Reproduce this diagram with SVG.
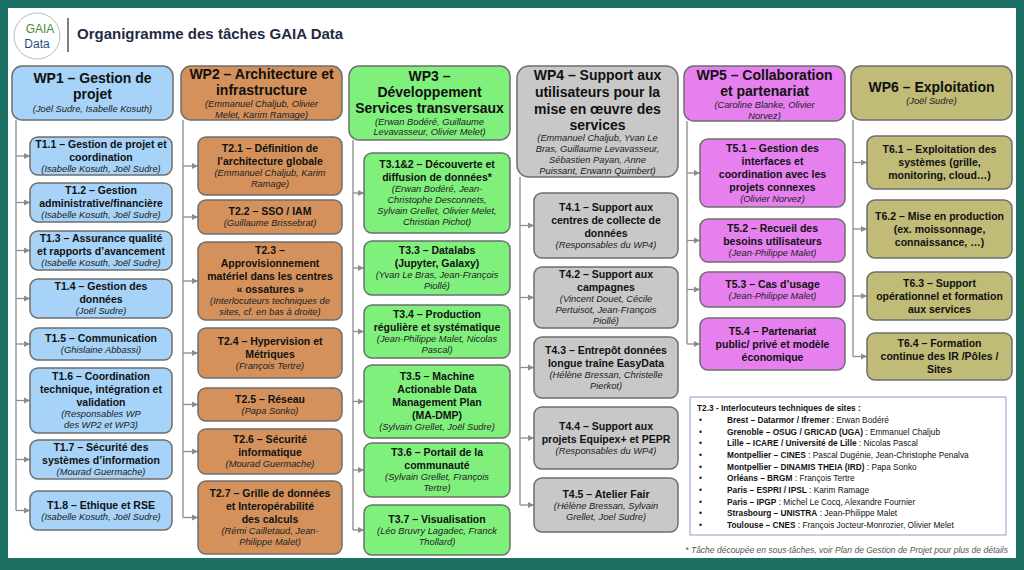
<svg xmlns="http://www.w3.org/2000/svg" width="1024" height="570" viewBox="0 0 1024 570">
<style>
text{font-family:"Liberation Sans",Arial,sans-serif;fill:#111;text-anchor:middle}
.h{font-size:14px;font-weight:bold}
.t{font-size:10.5px;font-weight:bold}
.n{font-size:9.3px;font-style:italic;fill:#222}
.box{stroke:#6e6e6e;stroke-width:1.5}
.w1{fill:#a6d3f7}.w2{fill:#d4915b}.w3{fill:#80f07c}.w4{fill:#c8c8c8}.w5{fill:#e680ef}.w6{fill:#c0bb77}
.c{stroke:#8c8c8c;stroke-width:1.3;fill:none}
.i{font-size:8.3px;text-anchor:start}
.ib{font-weight:bold}
</style>
<defs><marker id="a" markerWidth="6" markerHeight="6" refX="5" refY="3" orient="auto"><path d="M0,0.5 L5,3 L0,5.5z" fill="#8c8c8c"/></marker></defs>
<rect width="1024" height="570" fill="#1c7064"/>
<rect x="8" y="8" width="1008" height="550" fill="#fff"/>
<g id="logo"><circle cx="37" cy="36" r="23" fill="#fff" stroke="#bbb" stroke-width="1"/>
<text x="40" y="33" style="font-size:12px;fill:#4a8a3a">GAIA</text><text x="37" y="48" style="font-size:12px;fill:#1f4e79">Data</text></g>
<line x1="68" y1="18" x2="68" y2="52" stroke="#555" stroke-width="1.5"/>
<text x="77" y="39" style="font-size:15px;font-weight:bold;fill:#1f2a44;text-anchor:start">Organigramme des tâches GAIA Data</text>

<g id="connectors">
<path class="c" d="M16,120V510.5 M183,120V517.5 M353,140V530 M520,177V505 M687,121V344 M853,120V356.5"/>
<g marker-end="url(#a)" class="c">
<path d="M16,156H30"/><path d="M16,202.5H30"/><path d="M16,250.5H30"/><path d="M16,298.5H30"/><path d="M16,344H30"/><path d="M16,400.5H30"/><path d="M16,459.5H30"/><path d="M16,510.5H30"/>
<path d="M183,166H198"/><path d="M183,217H198"/><path d="M183,281H198"/><path d="M183,353H198"/><path d="M183,404.5H198"/><path d="M183,451.5H198"/><path d="M183,517.5H198"/>
<path d="M353,193H364"/><path d="M353,268H364"/><path d="M353,331.5H364"/><path d="M353,401.5H364"/><path d="M353,470H364"/><path d="M353,530H364"/>
<path d="M520,225.5H534"/><path d="M520,297.5H534"/><path d="M520,367.5H534"/><path d="M520,438H534"/><path d="M520,505H534"/>
<path d="M687,173H700"/><path d="M687,240.5H700"/><path d="M687,289.5H700"/><path d="M687,344H700"/>
<path d="M853,162.5H867"/><path d="M853,229H867"/><path d="M853,296H867"/><path d="M853,356.5H867"/>
</g></g>

<g id="wp1"><rect class="box w1" x="12" y="66" width="161" height="54" rx="10"/><text x="92.5"><tspan class="h" y="83">WP1 – Gestion de</tspan><tspan class="h" x="92.5" y="99">projet</tspan><tspan class="n" x="92.5" y="112">(Joël Sudre, Isabelle Kosuth)</tspan></text></g>
<g id="t11"><rect class="box w1" x="30" y="137" width="142" height="38" rx="8"/><text x="101"><tspan class="t" y="147.5">T1.1 – Gestion de projet et</tspan><tspan class="t" x="101" y="160.5">coordination</tspan><tspan class="n" x="101" y="171.5">(Isabelle Kosuth, Joël Sudre)</tspan></text></g>
<g id="t12"><rect class="box w1" x="30" y="183" width="142" height="39" rx="8"/><text x="101"><tspan class="t" y="194">T1.2 – Gestion</tspan><tspan class="t" x="101" y="207">administrative/financière</tspan><tspan class="n" x="101" y="218">(Isabelle Kosuth, Joël Sudre)</tspan></text></g>
<g id="t13"><rect class="box w1" x="30" y="231" width="142" height="39" rx="8"/><text x="101"><tspan class="t" y="242">T1.3 – Assurance qualité</tspan><tspan class="t" x="101" y="255">et rapports d’avancement</tspan><tspan class="n" x="101" y="266">(Isabelle Kosuth, Joël Sudre)</tspan></text></g>
<g id="t14"><rect class="box w1" x="30" y="279" width="142" height="39" rx="8"/><text x="101"><tspan class="t" y="290">T1.4 – Gestion des</tspan><tspan class="t" x="101" y="303">données</tspan><tspan class="n" x="101" y="314">(Joël Sudre)</tspan></text></g>
<g id="t15"><rect class="box w1" x="30" y="328" width="142" height="32" rx="8"/><text x="101"><tspan class="t" y="342">T1.5 – Communication</tspan><tspan class="n" x="101" y="353">(Ghislaine Abbassi)</tspan></text></g>
<g id="t16"><rect class="box w1" x="30" y="368" width="142" height="65" rx="8"/><text x="101"><tspan class="t" y="380">T1.6 – Coordination</tspan><tspan class="t" x="101" y="393">technique, intégration et</tspan><tspan class="t" x="101" y="406">validation</tspan><tspan class="n" x="101" y="417">(Responsables WP</tspan><tspan class="n" x="101" y="428">des WP2 et WP3)</tspan></text></g>
<g id="t17"><rect class="box w1" x="30" y="440" width="142" height="39" rx="8"/><text x="101"><tspan class="t" y="451">T1.7 – Sécurité des</tspan><tspan class="t" x="101" y="464">systèmes d’information</tspan><tspan class="n" x="101" y="475">(Mourad Guermache)</tspan></text></g>
<g id="t18"><rect class="box w1" x="30" y="491" width="142" height="39" rx="8"/><text x="101"><tspan class="t" y="508.5">T1.8 – Ethique et RSE</tspan><tspan class="n" x="101" y="519.5">(Isabelle Kosuth, Joël Sudre)</tspan></text></g>

<g id="wp2"><rect class="box w2" x="181" y="66" width="161" height="54" rx="10"/><text x="261.5"><tspan class="h" y="79">WP2 – Architecture et</tspan><tspan class="h" x="261.5" y="95">infrastructure</tspan><tspan class="n" x="261.5" y="107">(Emmanuel Chaljub, Olivier</tspan><tspan class="n" x="261.5" y="118">Melet, Karim Ramage)</tspan></text></g>
<g id="t21"><rect class="box w2" x="198" y="137" width="144" height="58" rx="8"/><text x="270"><tspan class="t" y="152">T2.1 – Définition de</tspan><tspan class="t" x="270" y="165">l’architecture globale</tspan><tspan class="n" x="270" y="176">(Emmanuel Chaljub, Karim</tspan><tspan class="n" x="270" y="187">Ramage)</tspan></text></g>
<g id="t22"><rect class="box w2" x="198" y="200" width="144" height="34" rx="8"/><text x="270"><tspan class="t" y="215">T2.2 – SSO / IAM</tspan><tspan class="n" x="270" y="226">(Guillaume Brissebrat)</tspan></text></g>
<g id="t23"><rect class="box w2" x="198" y="242" width="144" height="78" rx="8"/><text x="270"><tspan class="t" y="254">T2.3 –</tspan><tspan class="t" x="270" y="267">Approvisionnement</tspan><tspan class="t" x="270" y="280">matériel dans les centres</tspan><tspan class="t" x="270" y="293">« ossatures »</tspan><tspan class="n" x="270" y="304">(Interlocuteurs techniques de</tspan><tspan class="n" x="270" y="315">sites, cf. en bas à droite)</tspan></text></g>
<g id="t24"><rect class="box w2" x="198" y="328" width="144" height="50" rx="8"/><text x="270"><tspan class="t" y="344.5">T2.4 – Hypervision et</tspan><tspan class="t" x="270" y="357.5">Métriques</tspan><tspan class="n" x="270" y="368.5">(François Tertre)</tspan></text></g>
<g id="t25"><rect class="box w2" x="198" y="388" width="144" height="33" rx="8"/><text x="270"><tspan class="t" y="402.5">T2.5 – Réseau</tspan><tspan class="n" x="270" y="413.5">(Papa Sonko)</tspan></text></g>
<g id="t26"><rect class="box w2" x="198" y="429" width="144" height="45" rx="8"/><text x="270"><tspan class="t" y="443">T2.6 – Sécurité</tspan><tspan class="t" x="270" y="456">informatique</tspan><tspan class="n" x="270" y="467">(Mourad Guermache)</tspan></text></g>
<g id="t27"><rect class="box w2" x="198" y="481" width="144" height="73" rx="8"/><text x="270"><tspan class="t" y="497">T2.7 – Grille de données</tspan><tspan class="t" x="270" y="510">et Interopérabilité</tspan><tspan class="t" x="270" y="523">des calculs</tspan><tspan class="n" x="270" y="534">(Rémi Cailletaud, Jean-</tspan><tspan class="n" x="270" y="545">Philippe Malet)</tspan></text></g>

<g id="wp3"><rect class="box w3" x="349" y="66" width="161" height="74" rx="10"/><text x="429.5"><tspan class="h" y="81">WP3 –</tspan><tspan class="h" x="429.5" y="97">Développement</tspan><tspan class="h" x="429.5" y="113">Services transversaux</tspan><tspan class="n" x="429.5" y="125">(Erwan Bodéré, Guillaume</tspan><tspan class="n" x="429.5" y="135">Levavasseur, Olivier Melet)</tspan></text></g>
<g id="t312"><rect class="box w3" x="364" y="153" width="146" height="80" rx="8"/><text x="437"><tspan class="t" y="168">T3.1&amp;2 – Découverte et</tspan><tspan class="t" x="437" y="181">diffusion de données*</tspan><tspan class="n" x="437" y="192">(Erwan Bodéré, Jean-</tspan><tspan class="n" x="437" y="203">Christophe Desconnets,</tspan><tspan class="n" x="437" y="214">Sylvain Grellet, Olivier Melet,</tspan><tspan class="n" x="437" y="225">Christian Pichot)</tspan></text></g>
<g id="t33"><rect class="box w3" x="364" y="241" width="146" height="54" rx="8"/><text x="437"><tspan class="t" y="254">T3.3 – Datalabs</tspan><tspan class="t" x="437" y="267">(Jupyter, Galaxy)</tspan><tspan class="n" x="437" y="278">(Yvan Le Bras, Jean-François</tspan><tspan class="n" x="437" y="289">Piollé)</tspan></text></g>
<g id="t34"><rect class="box w3" x="364" y="305" width="146" height="53" rx="8"/><text x="437"><tspan class="t" y="317.5">T3.4 – Production</tspan><tspan class="t" x="437" y="330.5">régulière et systématique</tspan><tspan class="n" x="437" y="341.5">(Jean-Philippe Malet, Nicolas</tspan><tspan class="n" x="437" y="352.5">Pascal)</tspan></text></g>
<g id="t35"><rect class="box w3" x="364" y="365" width="146" height="73" rx="8"/><text x="437"><tspan class="t" y="380">T3.5 – Machine</tspan><tspan class="t" x="437" y="393">Actionable Data</tspan><tspan class="t" x="437" y="406">Management Plan</tspan><tspan class="t" x="437" y="419">(MA-DMP)</tspan><tspan class="n" x="437" y="430">(Sylvain Grellet, Joël Sudre)</tspan></text></g>
<g id="t36"><rect class="box w3" x="364" y="443" width="146" height="54" rx="8"/><text x="437"><tspan class="t" y="456">T3.6 – Portail de la</tspan><tspan class="t" x="437" y="469">communauté</tspan><tspan class="n" x="437" y="480">(Sylvain Grellet, François</tspan><tspan class="n" x="437" y="491">Tertre)</tspan></text></g>
<g id="t37"><rect class="box w3" x="364" y="505" width="146" height="50" rx="8"/><text x="437"><tspan class="t" y="522.5">T3.7 – Visualisation</tspan><tspan class="n" x="437" y="533.5">(Léo Bruvry Lagadec, Franck</tspan><tspan class="n" x="437" y="544.5">Thollard)</tspan></text></g>

<g id="wp4"><rect class="box w4" x="517" y="66" width="161" height="111" rx="12"/><text x="597.5"><tspan class="h" y="80">WP4 – Support aux</tspan><tspan class="h" x="597.5" y="97">utilisateurs pour la</tspan><tspan class="h" x="597.5" y="114">mise en œuvre des</tspan><tspan class="h" x="597.5" y="130">services</tspan><tspan class="n" x="597.5" y="141">(Emmanuel Chaljub, Yvan Le</tspan><tspan class="n" x="597.5" y="152">Bras, Guillaume Levavasseur,</tspan><tspan class="n" x="597.5" y="163">Sébastien Payan, Anne</tspan><tspan class="n" x="597.5" y="174">Puissant, Erwann Quimbert)</tspan></text></g>
<g id="t41"><rect class="box w4" x="534" y="193" width="144" height="65" rx="8"/><text x="606"><tspan class="t" y="210.5">T4.1 – Support aux</tspan><tspan class="t" x="606" y="223.5">centres de collecte de</tspan><tspan class="t" x="606" y="236.5">données</tspan><tspan class="n" x="606" y="247.5">(Responsables du WP4)</tspan></text></g>
<g id="t42"><rect class="box w4" x="534" y="267" width="144" height="61" rx="8"/><text x="606"><tspan class="t" y="278">T4.2 – Support aux</tspan><tspan class="t" x="606" y="291">campagnes</tspan><tspan class="n" x="606" y="302">(Vincent Douet, Cécile</tspan><tspan class="n" x="606" y="313">Pertuisot, Jean-François</tspan><tspan class="n" x="606" y="324">Piollé)</tspan></text></g>
<g id="t43"><rect class="box w4" x="534" y="337" width="144" height="61" rx="8"/><text x="606"><tspan class="t" y="353.5">T4.3 – Entrepôt données</tspan><tspan class="t" x="606" y="366.5">longue traîne EasyData</tspan><tspan class="n" x="606" y="377.5">(Hélène Bressan, Christelle</tspan><tspan class="n" x="606" y="388.5">Pierkot)</tspan></text></g>
<g id="t44"><rect class="box w4" x="534" y="407" width="144" height="62" rx="8"/><text x="606"><tspan class="t" y="429.5">T4.4 – Support aux</tspan><tspan class="t" x="606" y="442.5">projets Equipex+ et PEPR</tspan><tspan class="n" x="606" y="453.5">(Responsables du WP4)</tspan></text></g>
<g id="t45"><rect class="box w4" x="534" y="478" width="144" height="54" rx="8"/><text x="606"><tspan class="t" y="497.5">T4.5 – Atelier Fair</tspan><tspan class="n" x="606" y="508.5">(Hélène Bressan, Sylvain</tspan><tspan class="n" x="606" y="519.5">Grellet, Joel Sudre)</tspan></text></g>

<g id="wp5"><rect class="box w5" x="684" y="66" width="161" height="55" rx="10"/><text x="764.5"><tspan class="h" y="80">WP5 – Collaboration</tspan><tspan class="h" x="764.5" y="96">et partenariat</tspan><tspan class="n" x="764.5" y="108">(Caroline Blanke, Olivier</tspan><tspan class="n" x="764.5" y="119">Norvez)</tspan></text></g>
<g id="t51"><rect class="box w5" x="700" y="139" width="145" height="68" rx="8"/><text x="772.5"><tspan class="t" y="151.5">T5.1 – Gestion des</tspan><tspan class="t" x="772.5" y="164.5">interfaces et</tspan><tspan class="t" x="772.5" y="177.5">coordination avec les</tspan><tspan class="t" x="772.5" y="190.5">projets connexes</tspan><tspan class="n" x="772.5" y="201.5">(Olivier Norvez)</tspan></text></g>
<g id="t52"><rect class="box w5" x="700" y="219" width="145" height="43" rx="8"/><text x="772.5"><tspan class="t" y="232">T5.2 – Recueil des</tspan><tspan class="t" x="772.5" y="245">besoins utilisateurs</tspan><tspan class="n" x="772.5" y="256">(Jean-Philippe Malet)</tspan></text></g>
<g id="t53"><rect class="box w5" x="700" y="272" width="145" height="35" rx="8"/><text x="772.5"><tspan class="t" y="287.5">T5.3 – Cas d’usage</tspan><tspan class="n" x="772.5" y="298.5">(Jean-Philippe Malet)</tspan></text></g>
<g id="t54"><rect class="box w5" x="700" y="318" width="145" height="52" rx="8"/><text x="772.5"><tspan class="t" y="334.5">T5.4 – Partenariat</tspan><tspan class="t" x="772.5" y="347.5">public/ privé et modèle</tspan><tspan class="t" x="772.5" y="360.5">économique</tspan></text></g>

<g id="wp6"><rect class="box w6" x="851" y="66" width="161" height="54" rx="10"/><text x="931.5"><tspan class="h" y="92">WP6 – Exploitation</tspan><tspan class="n" x="931.5" y="104">(Joël Sudre)</tspan></text></g>
<g id="t61"><rect class="box w6" x="867" y="136" width="145" height="53" rx="8"/><text x="939.5"><tspan class="t" y="153">T6.1 – Exploitation des</tspan><tspan class="t" x="939.5" y="166">systèmes (grille,</tspan><tspan class="t" x="939.5" y="179">monitoring, cloud…)</tspan></text></g>
<g id="t62"><rect class="box w6" x="867" y="200" width="145" height="58" rx="8"/><text x="939.5"><tspan class="t" y="219.5">T6.2 – Mise en production</tspan><tspan class="t" x="939.5" y="232.5">(ex. moissonnage,</tspan><tspan class="t" x="939.5" y="245.5">connaissance, …)</tspan></text></g>
<g id="t63"><rect class="box w6" x="867" y="272" width="145" height="48" rx="8"/><text x="939.5"><tspan class="t" y="286.5">T6.3 – Support</tspan><tspan class="t" x="939.5" y="299.5">opérationnel et formation</tspan><tspan class="t" x="939.5" y="312.5">aux services</tspan></text></g>
<g id="t64"><rect class="box w6" x="867" y="333" width="145" height="47" rx="8"/><text x="939.5"><tspan class="t" y="347">T6.4 – Formation</tspan><tspan class="t" x="939.5" y="360">continue des IR /Pôles /</tspan><tspan class="t" x="939.5" y="373">Sites</tspan></text></g>

<g id="sites"><rect x="690" y="397" width="316" height="138" fill="#fff" stroke="#8aa2c0" stroke-width="1"/>
<text class="i ib" x="697" y="411">T2.3 - Interlocuteurs techniques de sites :</text>
<g class="i">
<text class="i" x="699" y="423">•</text><text class="i" x="727" y="423"><tspan class="ib">Brest – Datarmor / Ifremer</tspan> :  Erwan Bodéré</text>
<text class="i" x="699" y="434.7">•</text><text class="i" x="727" y="434.7"><tspan class="ib">Grenoble – OSUG / GRICAD (UGA)</tspan> : Emmanuel Chaljub</text>
<text class="i" x="699" y="446.3">•</text><text class="i" x="727" y="446.3"><tspan class="ib">Lille – ICARE / Université de Lille</tspan> : Nicolas Pascal</text>
<text class="i" x="699" y="458">•</text><text class="i" x="727" y="458"><tspan class="ib">Montpellier – CINES</tspan> : Pascal Dugénie, Jean-Christophe Penalva</text>
<text class="i" x="699" y="469.7">•</text><text class="i" x="727" y="469.7"><tspan class="ib">Montpellier – DINAMIS THEIA (IRD)</tspan> : Papa Sonko</text>
<text class="i" x="699" y="481.3">•</text><text class="i" x="727" y="481.3"><tspan class="ib">Orléans – BRGM</tspan> : François Tertre</text>
<text class="i" x="699" y="493">•</text><text class="i" x="727" y="493"><tspan class="ib">Paris – ESPRI / IPSL</tspan> : Karim Ramage</text>
<text class="i" x="699" y="504.7">•</text><text class="i" x="727" y="504.7"><tspan class="ib">Paris – IPGP</tspan> : Michel Le Cocq, Alexandre Fournier</text>
<text class="i" x="699" y="516.3">•</text><text class="i" x="727" y="516.3"><tspan class="ib">Strasbourg – UNISTRA</tspan> : Jean-Philippe Malet</text>
<text class="i" x="699" y="528">•</text><text class="i" x="727" y="528"><tspan class="ib">Toulouse – CNES</tspan> : François Jocteur-Monrozier, Olivier Melet</text>
</g></g>
<text x="1008" y="553" style="font-size:8.5px;font-style:italic;fill:#555;text-anchor:end">* Tâche découpée en sous-tâches, voir Plan de Gestion de Projet pour plus de détails</text>
</svg>
